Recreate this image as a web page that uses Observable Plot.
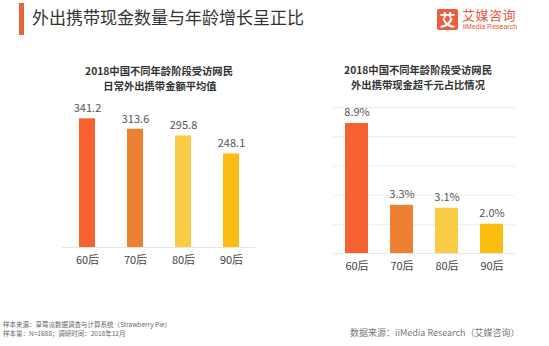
<!DOCTYPE html>
<html>
<head>
<meta charset="utf-8">
<script src="https://cdn.jsdelivr.net/npm/d3@7"></script>
<script src="https://cdn.jsdelivr.net/npm/@observablehq/plot@0.6"></script>
<style>
  html, body { margin: 0; padding: 0; background: #fff; }
  body { width: 549px; height: 346px; position: relative; overflow: hidden;
         font-family: "Noto Sans CJK SC", "Noto Sans", sans-serif; }
  .abs { position: absolute; white-space: nowrap; }
  #accent { left: 19px; top: 3px; width: 5px; height: 32px; background: #e8623a; }
  #title { left: 32px; top: 5px; font-size: 17px; color: #333; line-height: 24px; }
  #logoBox { left: 437px; top: 9px; width: 21px; height: 21px; background: #ea5f3a; border-radius: 2px;
             color: #fff; font-size: 16px; line-height: 21px; text-align: center; font-weight: bold; }
  #logoCn { left: 462px; top: 7px; font-size: 13px; color: #e8563a; line-height: 16px; letter-spacing: 0.5px; }
  #logoEn { left: 463px; top: 23px; font-size: 7px; color: #e8563a; line-height: 8px; font-family: "Liberation Sans", Arial, sans-serif; }
  .sub { font-size: 10.3px; font-weight: bold; color: #333; text-align: center; line-height: 15px; transform: translateX(-50%); }
  .foot { font-size: 6.5px; color: #666; line-height: 8px; }
  #src { left: 350px; top: 327px; font-size: 9px; color: #777; line-height: 12px; }
</style>
</head>
<body>
<div id="accent" class="abs"></div>
<div id="title" class="abs">外出携带现金数量与年龄增长呈正比</div>
<div id="logoBox" class="abs">艾</div>
<div id="logoCn" class="abs">艾媒咨询</div>
<div id="logoEn" class="abs">iiMedia Research</div>

<div class="abs sub" style="left:159px; top:62.5px;">2018中国不同年龄阶段受访网民</div>
<div class="abs sub" style="left:160px; top:77.5px;">日常外出携带金额平均值</div>
<div class="abs sub" style="left:418px; top:62px;">2018中国不同年龄阶段受访网民</div>
<div class="abs sub" style="left:418px; top:77px;">外出携带现金超千元占比情况</div>

<div id="left" class="abs" style="left:0px; top:95px;"></div>
<div id="right" class="abs" style="left:280px; top:95px;"></div>

<div class="abs foot" style="left:3px; top:320px;">样本来源：草莓派数据调查与计算系统（Strawberry Pie）</div>
<div class="abs foot" style="left:3px; top:329px;">样本量：N=1688；调研时间：2018年12月</div>
<div id="src" class="abs">数据来源：iiMedia Research（艾媒咨询）</div>

<script>
const ages = ["60后", "70后", "80后", "90后"];
const avgAmount = [341.2, 313.6, 295.8, 248.1];
const shareOver1000 = [8.9, 3.3, 3.1, 2.0];
const barColors = ["#f5612f", "#ee8033", "#facb45", "#fbbd12"];
const shareTicks = [0, 2, 4, 6, 8, 10];

const leftData = ages.map((a, i) => ({age: a, value: avgAmount[i], color: barColors[i]}));
const rightData = ages.map((a, i) => ({age: a, value: shareOver1000[i], color: barColors[i]}));

const fontFam = "'Noto Sans CJK SC', 'Noto Sans', sans-serif";

const leftPlot = Plot.plot({
  width: 280, height: 195,
  marginLeft: 62, marginRight: 25, marginTop: 20, marginBottom: 43,
  style: {background: "transparent", fontFamily: fontFam},
  x: {domain: ages, paddingInner: 0.67, paddingOuter: 0.33, label: null},
  y: {domain: [0, 350], axis: null},
  color: {type: "identity"},
  marks: [
    Plot.barY(leftData, {x: "age", y: "value", fill: "color"}),
    Plot.ruleY([0], {stroke: "#e6e6e6", strokeWidth: 1}),
    Plot.text(leftData, {x: "age", y: "value", text: d => d.value.toFixed(1), dy: -10, fill: "#555", fontSize: 11}),
    Plot.axisX({tickSize: 0, tickPadding: 9, fontSize: 11, color: "#444", label: null})
  ]
});
document.getElementById("left").appendChild(leftPlot);

const rightPlot = Plot.plot({
  width: 269, height: 195,
  marginLeft: 53, marginRight: 34, marginTop: 12, marginBottom: 37,
  style: {background: "transparent", fontFamily: fontFam},
  x: {domain: ages, paddingInner: 0.49, paddingOuter: 0.254, label: null},
  y: {domain: [0, 10], axis: null},
  color: {type: "identity"},
  marks: [
    Plot.ruleY(shareTicks, {stroke: "#ececec", strokeWidth: 1}),
    Plot.barY(rightData, {x: "age", y: "value", fill: "color"}),
    Plot.ruleY([0], {stroke: "#e6e6e6", strokeWidth: 1}),
    Plot.text(rightData, {x: "age", y: "value", text: d => d.value.toFixed(1) + "%", dy: -11, fill: "#555", fontSize: 11}),
    Plot.axisX({tickSize: 0, tickPadding: 9, fontSize: 11, color: "#444", label: null})
  ]
});
document.getElementById("right").appendChild(rightPlot);
</script>
</body>
</html>
